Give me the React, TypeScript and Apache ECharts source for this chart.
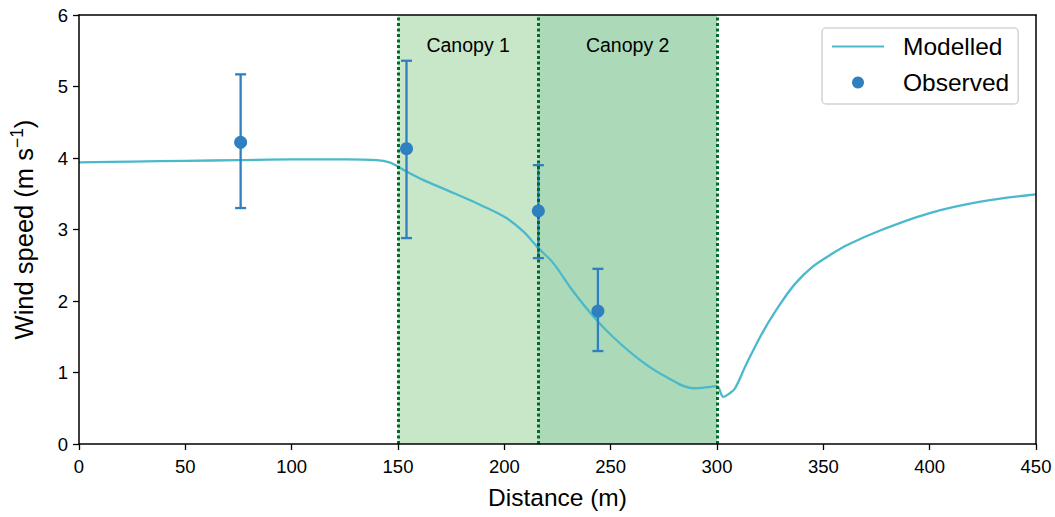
import React, { useEffect, useRef } from "react";
import * as echarts from "echarts";

const modelX = [0, 25, 50, 75, 100, 125, 140, 146, 150, 154, 162, 173, 189, 201, 209, 216, 223, 232, 242, 251, 264, 276, 289, 297, 300, 303, 306, 308.5, 314, 322, 330, 337, 345, 353, 361, 377, 400, 424, 450];
const modelY = [3.94, 3.95, 3.96, 3.97, 3.98, 3.98, 3.97, 3.94, 3.88, 3.81, 3.69, 3.55, 3.34, 3.16, 2.97, 2.74, 2.53, 2.15, 1.78, 1.5, 1.17, 0.94, 0.78, 0.8, 0.81, 0.66, 0.71, 0.78, 1.13, 1.59, 1.97, 2.25, 2.48, 2.64, 2.78, 2.99, 3.23, 3.39, 3.49];

const obsX = [76, 154, 216, 244];
const obsY = [4.22, 4.13, 3.26, 1.86];
const obsLow = [3.3, 2.88, 2.6, 1.3];
const obsHigh = [5.17, 5.36, 3.9, 2.45];

const canopyNames = ["Canopy 1", "Canopy 2"];
const canopyBounds = [150, 216, 300];
const canopyColors = ["#c7e7c8", "#acdab9"];

const xTicks = [0, 50, 100, 150, 200, 250, 300, 350, 400, 450];
const yTicks = [0, 1, 2, 3, 4, 5, 6];

const FONT = "'Liberation Sans', Arial, Helvetica, sans-serif";
const LINE_COLOR = "#4ab9cb";
const OBS_COLOR = "#2f7fc1";
const VLINE_COLOR = "#006a2c";

export default function App() {
  const ref = useRef<HTMLDivElement>(null);
  useEffect(() => {
    document.body.style.margin = "0";
    const chart = echarts.init(ref.current!, null, { renderer: "svg" });
    const axisLine = { show: true, onZero: false, lineStyle: { color: "#000", width: 1.5 } };
    const option: any = {
      animation: false,
      backgroundColor: "#fff",
      textStyle: { fontFamily: FONT },
      grid: { left: 79, right: 19, top: 15, bottom: 73 },
      legend: {
        left: 822,
        top: 28,
        orient: "vertical",
        padding: [6, 9, 9, 9],
        itemGap: 11,
        itemWidth: 52,
        itemHeight: 12,
        borderColor: "#d4d4d4",
        borderWidth: 1.5,
        borderRadius: 4,
        backgroundColor: "rgba(255,255,255,0.85)",
        textStyle: { fontSize: 24.5, color: "#000", fontFamily: FONT, padding: [0, 0, 0, 14] },
        data: [
          { name: "Modelled", itemStyle: { color: "rgba(0,0,0,0)", borderWidth: 0, opacity: 0 } },
          { name: "Observed" },
        ],
      },
      xAxis: [
        {
          type: "value",
          min: xTicks[0],
          max: xTicks[xTicks.length - 1],
          interval: 50,
          name: "Distance (m)",
          nameLocation: "middle",
          nameGap: 41,
          nameTextStyle: { fontSize: 24.5, color: "#000", fontFamily: FONT },
          axisLine,
          axisTick: { show: true, length: 6, lineStyle: { color: "#000", width: 1.3 } },
          axisLabel: { fontSize: 18.5, color: "#000", margin: 13, fontFamily: FONT },
          splitLine: { show: false },
          z: 5,
        },
        {
          type: "value",
          position: "top",
          min: xTicks[0],
          max: xTicks[xTicks.length - 1],
          axisLine,
          axisTick: { show: false },
          axisLabel: { show: false },
          splitLine: { show: false },
          z: 5,
        },
      ],
      yAxis: [
        {
          type: "value",
          min: yTicks[0],
          max: yTicks[yTicks.length - 1],
          interval: 1,
          name: "{a|Wind speed (m s}{s|−1}{a|)}",
          nameLocation: "middle",
          nameGap: 39,
          nameRotate: 90,
          nameTextStyle: {
            color: "#000",
            fontFamily: FONT,
            rich: {
              a: { fontSize: 25.5, fontFamily: FONT, color: "#000", lineHeight: 32, verticalAlign: "middle" },
              s: { fontSize: 17.5, fontFamily: FONT, color: "#000", lineHeight: 17, verticalAlign: "top" },
            },
          },
          axisLine,
          axisTick: { show: true, length: 6, lineStyle: { color: "#000", width: 1.3 } },
          axisLabel: { fontSize: 18.5, color: "#000", margin: 11, fontFamily: FONT },
          splitLine: { show: false },
          z: 5,
        },
        {
          type: "value",
          position: "right",
          min: yTicks[0],
          max: yTicks[yTicks.length - 1],
          axisLine,
          axisTick: { show: false },
          axisLabel: { show: false },
          splitLine: { show: false },
          z: 5,
        },
      ],
      series: [
        {
          name: "Canopies",
          type: "line",
          data: [],
          silent: true,
          z: 1,
          markArea: {
            silent: true,
            data: canopyNames.map((n, i) => [
              {
                name: n,
                xAxis: canopyBounds[i],
                itemStyle: { color: canopyColors[i] },
                label: {
                  show: true,
                  position: "insideTop",
                  distance: 20,
                  fontSize: 19.5,
                  color: "#000",
                  fontFamily: FONT,
                },
              },
              { xAxis: canopyBounds[i + 1] },
            ]),
          },
          markLine: {
            silent: true,
            symbol: ["none", "none"],
            label: { show: false },
            lineStyle: { color: VLINE_COLOR, width: 3, type: [3, 2.5] },
            data: canopyBounds.map((b) => ({ xAxis: b })),
          },
        },
        {
          name: "Modelled",
          type: "line",
          data: modelX.map((x, i) => [x, modelY[i]]),
          symbol: "none",
          smooth: 0.35,
          lineStyle: { color: LINE_COLOR, width: 2.3 },
          itemStyle: { color: LINE_COLOR },
          z: 3,
        },
        {
          name: "Errors",
          type: "custom",
          z: 4,
          silent: true,
          data: obsX.map((x, i) => [x, obsLow[i], obsHigh[i]]),
          renderItem: (params: any, api: any) => {
            const lo = api.coord([api.value(0), api.value(1)]);
            const hi = api.coord([api.value(0), api.value(2)]);
            const half = 5.5;
            const style = { stroke: OBS_COLOR, lineWidth: 2.3 };
            return {
              type: "group",
              children: [
                { type: "line", shape: { x1: lo[0], y1: lo[1], x2: hi[0], y2: hi[1] }, style },
                { type: "line", shape: { x1: lo[0] - half, y1: lo[1], x2: lo[0] + half, y2: lo[1] }, style },
                { type: "line", shape: { x1: hi[0] - half, y1: hi[1], x2: hi[0] + half, y2: hi[1] }, style },
              ],
            };
          },
        },
        {
          name: "Observed",
          type: "scatter",
          data: obsX.map((x, i) => [x, obsY[i]]),
          symbol: "circle",
          symbolSize: 13,
          itemStyle: { color: OBS_COLOR, opacity: 1 },
          z: 5,
        },
      ],
    };
    chart.setOption(option);
    return () => chart.dispose();
  }, []);
  return <div ref={ref} style={{ width: 1055, height: 517 }} />;
}
